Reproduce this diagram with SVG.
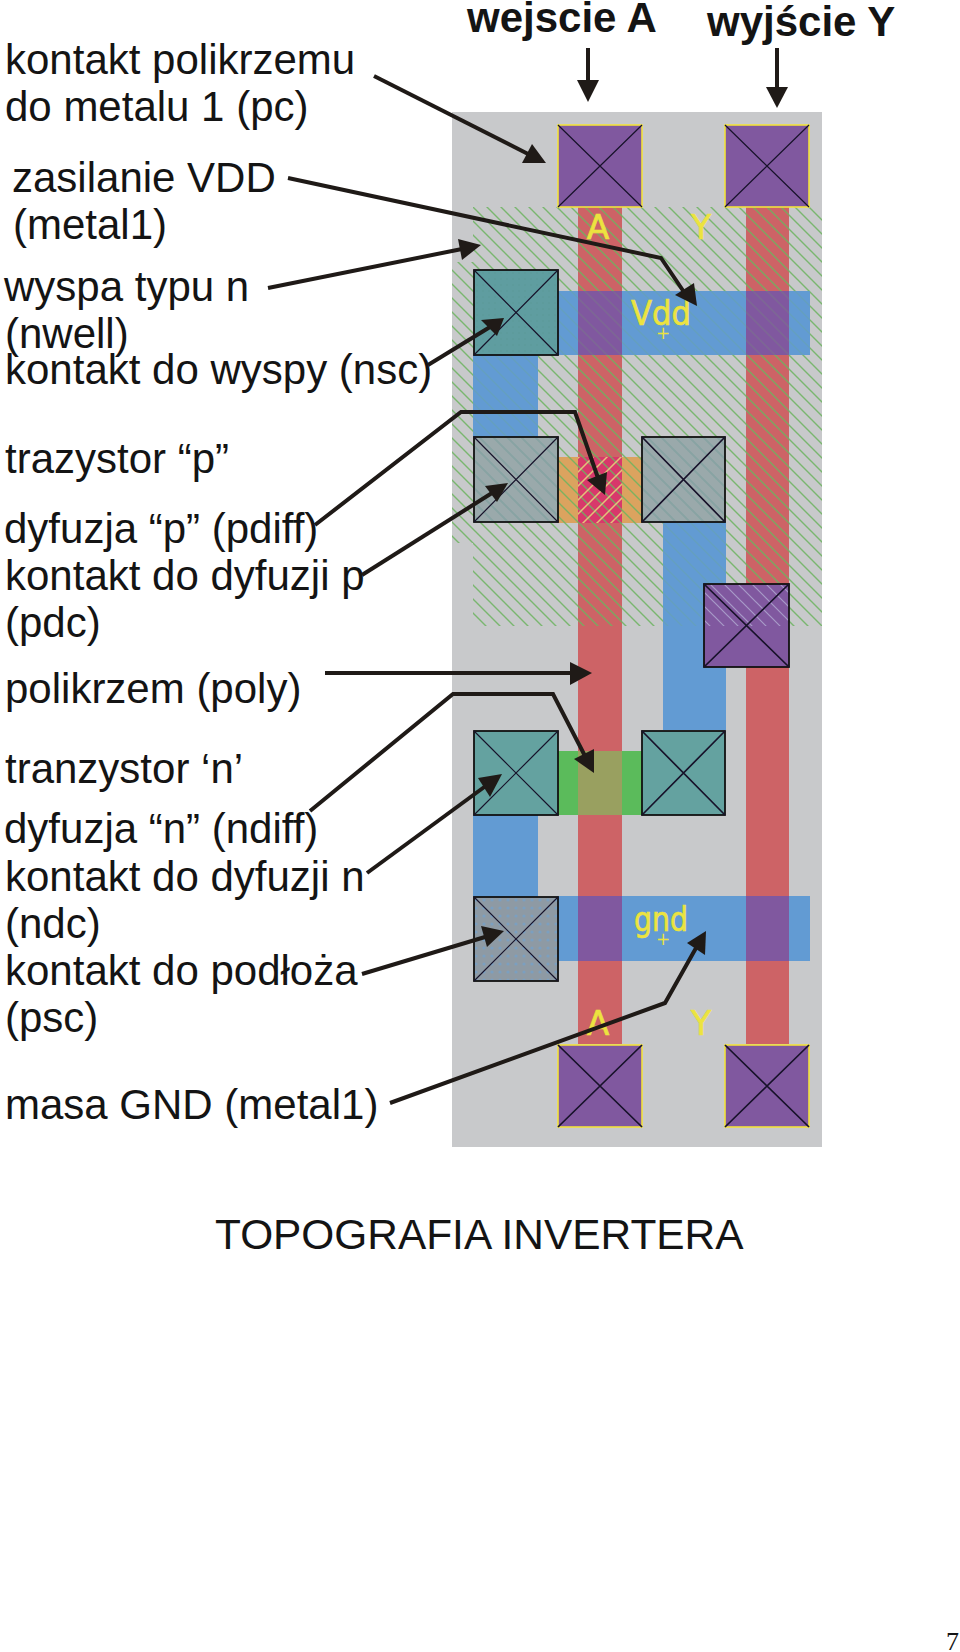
<svg xmlns="http://www.w3.org/2000/svg" width="960" height="1652" viewBox="0 0 960 1652">
<style>
text{font-family:"Liberation Sans",Arial,sans-serif;fill:#141414}
.l{font-size:42px}
.b{font-size:42px;font-weight:bold}
.y{font-family:"DejaVu Sans","Liberation Sans",sans-serif;fill:#ece33f;stroke:#ece33f;stroke-width:.7;text-anchor:middle}
.poly{fill:#cd6366}.metal{fill:#629bd3}.ov{fill:#80589f}
.cp{stroke:#f2e23c;stroke-width:1.6}
.ck{stroke:#111;stroke-width:1.8}
.x{stroke:#17122a;stroke-width:1.2;fill:none}
.xb{stroke:#17122a;stroke-width:1.7;fill:none}
.w{fill:none;stroke:#1f1a17;stroke-width:4}
.h{fill:#1f1a17}
</style>
<defs>
<pattern id="hg" width="14" height="14" patternUnits="userSpaceOnUse"><path d="M-3,-3L17,17M-3,11L3,17M11,-3L17,3" stroke="#6cb35f" stroke-width="1.4"/></pattern>
<pattern id="ht" width="14" height="14" patternUnits="userSpaceOnUse"><path d="M-3,-3L17,17M-3,11L3,17M11,-3L17,3" stroke="#88a3a3" stroke-width="2"/></pattern>
<pattern id="hl" width="14" height="14" patternUnits="userSpaceOnUse"><path d="M-3,-3L17,17M-3,11L3,17M11,-3L17,3" stroke="#a79ac8" stroke-width="1.2"/></pattern>
<pattern id="hc" width="14" height="14" patternUnits="userSpaceOnUse"><path d="M17,-3L-3,17M3,-3L-3,3M17,11L11,17" stroke="#e3c27a" stroke-width="1.5"/></pattern>
<pattern id="dt" width="8" height="8" patternUnits="userSpaceOnUse"><circle cx="4" cy="4" r="1.6" fill="#7b9fc0"/></pattern>
<pattern id="dg" width="6" height="6" patternUnits="userSpaceOnUse"><circle cx="3" cy="3" r="1.2" fill="#5a9a98"/></pattern>
</defs>
<rect width="960" height="1652" fill="#fff"/>
<g id="layout">
<rect x="452" y="112" width="370" height="1035" fill="#c8c9cb"/>
<rect class="poly" x="578" y="207" width="44" height="837"/>
<rect class="poly" x="746" y="207" width="43" height="837"/>
<rect x="558" y="457" width="84" height="66" fill="#dba35f"/>
<rect x="578" y="457" width="44" height="66" fill="#d8386b"/>
<rect x="558" y="751" width="84" height="64" fill="#5bbb5b"/>
<rect x="578" y="751" width="44" height="64" fill="#99a060"/>
<path id="nwell" fill="url(#hg)" opacity=".85" d="M473,207H822V626H473V543H452V262H473Z"/>
<rect x="578" y="457" width="44" height="66" fill="url(#hc)"/>
<rect class="metal" x="558" y="291" width="252" height="64"/>
<rect class="ov" x="578" y="291" width="44" height="64"/>
<rect class="ov" x="746" y="291" width="43" height="64"/>
<rect fill="url(#hg)" opacity=".18" x="558" y="291" width="252" height="64"/>
<rect class="metal" x="473" y="355" width="65" height="82"/>
<rect class="metal" x="663" y="522" width="63" height="208"/>
<rect fill="url(#hg)" opacity=".18" x="473" y="355" width="65" height="82"/>
<rect fill="url(#hg)" opacity=".18" x="663" y="522" width="63" height="104"/>
<rect class="metal" x="473" y="815" width="65" height="82"/>
<rect class="metal" x="558" y="896" width="252" height="65"/>
<rect class="ov" x="578" y="896" width="44" height="65"/>
<rect class="ov" x="746" y="896" width="43" height="65"/>
</g>
<g id="contact-pc-a"><rect class="ov cp" x="558" y="125" width="84" height="82"/><path class="x" d="M558,125L642,207M642,125L558,207"/></g>
<g id="contact-pc-y"><rect class="ov cp" x="725" y="125" width="84" height="82"/><path class="x" d="M725,125L809,207M809,125L725,207"/></g>
<g id="contact-nsc"><rect class="ck" x="474" y="270" width="84" height="85" fill="#5f9da0"/><rect x="475" y="271" width="82" height="83" fill="url(#dg)" opacity=".5"/><path class="x" d="M474,270L558,355M558,270L474,355"/></g>
<g id="contact-pdc-l"><rect class="ck" x="474" y="437" width="84" height="85" fill="#9aa9ab"/><rect x="475" y="438" width="82" height="83" fill="url(#ht)"/><path class="x" d="M474,437L558,522M558,437L474,522"/></g>
<g id="contact-pdc-r"><rect class="ck" x="642" y="437" width="83" height="85" fill="#9aa9ab"/><rect x="643" y="438" width="81" height="83" fill="url(#ht)"/><path class="xb" d="M642,437L725,522M725,437L642,522"/></g>
<g id="contact-mid"><rect class="ov ck" x="704" y="584" width="85" height="83"/><rect x="705" y="585" width="83" height="41" fill="url(#hl)"/><path class="xb" d="M704,584L789,667M789,584L704,667"/></g>
<g id="contact-ndc-l"><rect class="ck" x="474" y="731" width="84" height="84" fill="#64a2a0"/><path class="x" d="M474,731L558,815M558,731L474,815"/></g>
<g id="contact-ndc-r"><rect class="ck" x="642" y="731" width="83" height="84" fill="#64a2a0"/><path class="xb" d="M642,731L725,815M725,731L642,815"/></g>
<g id="contact-psc"><rect class="ck" x="474" y="897" width="84" height="84" fill="#8e9aa4"/><rect x="475" y="898" width="82" height="82" fill="url(#dt)"/><path class="x" d="M474,897L558,981M558,897L474,981"/></g>
<g id="contact-bottom-a"><rect class="ov cp" x="558" y="1045" width="84" height="82"/><path class="xb" d="M558,1045L642,1127M642,1045L558,1127"/></g>
<g id="contact-bottom-y"><rect class="ov cp" x="725" y="1045" width="84" height="82"/><path class="xb" d="M725,1045L809,1127M809,1045L725,1127"/></g>
<g id="layout-labels">
<text class="y" x="598" y="239" font-size="33">A</text>
<text class="y" x="701" y="239" font-size="33">Y</text>
<text class="y" x="661" y="325" font-size="33" textLength="60" lengthAdjust="spacingAndGlyphs">Vdd</text>
<text class="y" x="663" y="339" font-size="17" style="stroke-width:0">+</text>
<text class="y" x="661" y="931" font-size="33" textLength="54" lengthAdjust="spacingAndGlyphs">gnd</text>
<text class="y" x="663" y="945" font-size="17" style="stroke-width:0">+</text>
<text class="y" x="598" y="1035" font-size="33">A</text>
<text class="y" x="701" y="1035" font-size="33">Y</text>
</g>
<g id="labels">
<text class="b" x="467" y="32">wejscie A</text>
<text class="b" x="707" y="36">wyjście Y</text>
<text class="l" x="5" y="74">kontakt polikrzemu</text>
<text class="l" x="5" y="121">do metalu 1 (pc)</text>
<text class="l" x="12" y="192">zasilanie VDD</text>
<text class="l" x="13" y="239">(metal1)</text>
<text class="l" x="4" y="301">wyspa typu n</text>
<text class="l" x="5" y="348">(nwell)</text>
<text class="l" x="5" y="384">kontakt do wyspy (nsc)</text>
<text class="l" x="5" y="473">trazystor “p”</text>
<text class="l" x="4" y="543">dyfuzja “p” (pdiff)</text>
<text class="l" x="5" y="590">kontakt do dyfuzji p</text>
<text class="l" x="5" y="637">(pdc)</text>
<text class="l" x="5" y="703">polikrzem (poly)</text>
<text class="l" x="5" y="783">tranzystor ‘n’</text>
<text class="l" x="4" y="843">dyfuzja “n” (ndiff)</text>
<text class="l" x="5" y="891">kontakt do dyfuzji n</text>
<text class="l" x="5" y="938">(ndc)</text>
<text class="l" x="5" y="985">kontakt do podłoża</text>
<text class="l" x="5" y="1032">(psc)</text>
<text class="l" x="5" y="1119">masa GND (metal1)</text>
<text class="l" x="215" y="1249" style="font-size:42.4px">TOPOGRAFIA INVERTERA</text>
<text x="946" y="1650" font-size="26" style="font-family:'Liberation Serif',serif">7</text>
</g>
<g id="connectors">
<path class="w" d="M374,76L532,156"/><path class="h" d="M546,163L522,163L532,144Z"/>
<path class="w" d="M288,178L661,258L686,295"/><path class="h" d="M697,306L675,295L694,283Z"/>
<path class="w" d="M268,288L462,249"/><path class="h" d="M481,245L458,239L462,260Z"/>
<path class="w" d="M428,365L490,327"/><path class="h" d="M504,318L481,320L497,336Z"/>
<path class="w" d="M315,525L461,412H575L598,478"/><path class="h" d="M605,495L587,480L607,472Z"/>
<path class="w" d="M362,575L492,493"/><path class="h" d="M508,483L485,486L497,502Z"/>
<path class="w" d="M325,673H572"/><path class="h" d="M592,673L570,662V685Z"/>
<path class="w" d="M310,811L453,694H553L585,756"/><path class="h" d="M594,773L574,759L594,749Z"/>
<path class="w" d="M367,873L487,785"/><path class="h" d="M502,774L478,778L490,797Z"/>
<path class="w" d="M362,974L485,937"/><path class="h" d="M504,931L481,926L487,947Z"/>
<path class="w" d="M390,1103L665,1003L696,948"/><path class="h" d="M706,931L687,943L705,955Z"/>
<path class="w" d="M588,48V82"/><path class="h" d="M588,102L577,80H599Z"/>
<path class="w" d="M777,48V89"/><path class="h" d="M777,108L766,87H788Z"/>
</g>
</svg>
